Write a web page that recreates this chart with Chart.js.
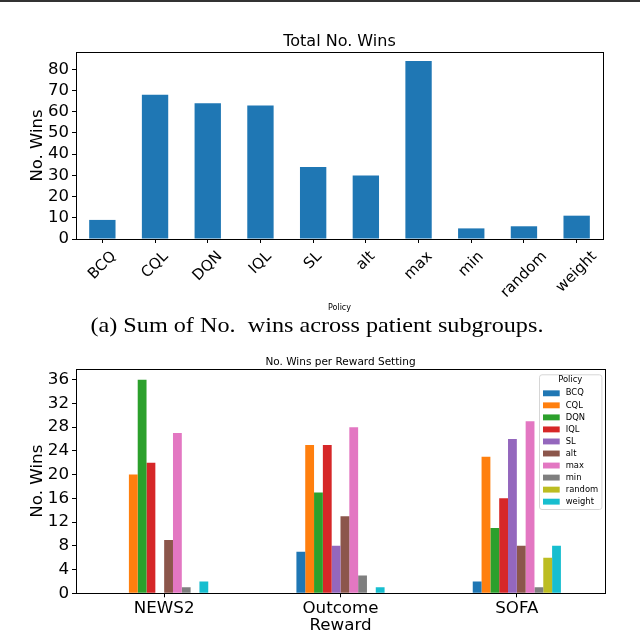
<!DOCTYPE html>
<html>
<head>
<meta charset="utf-8">
<script src="https://cdn.jsdelivr.net/npm/chart.js@4.4.0/dist/chart.umd.min.js"></script>
<style>
  html, body { margin: 0; padding: 0; background: #fff; }
  body { width: 640px; height: 632px; overflow: hidden; position: relative; }
  #rule { position: absolute; left: 0; top: 0; width: 640px; height: 1.5px; background: #333; }
  #totalChart { position: absolute; left: 0; top: 0; }
  #rewardChart { position: absolute; left: 0; top: 340px; }
  #caption {
    position: absolute; left: -3.5px; width: 640px; top: 312px;
    text-align: center; font-family: "Liberation Serif", "Times New Roman", serif;
    font-size: 22px; line-height: 25px; white-space: pre; color: #000;
  }
  #caption span { display: inline-block; transform: scaleX(1.1); }
</style>
</head>
<body>
<div id="rule"></div>
<canvas id="totalChart" width="640" height="320"></canvas>
<div id="caption"><span>(a) Sum of No.  wins across patient subgroups.</span></div>
<canvas id="rewardChart" width="640" height="300"></canvas>

<script>
const policies = ['BCQ', 'CQL', 'DQN', 'IQL', 'SL', 'alt', 'max', 'min', 'random', 'weight'];
const totalWins = [9, 68, 64, 63, 34, 30, 84, 5, 6, 11];
const totalTicks = [0, 10, 20, 30, 40, 50, 60, 70, 80];

const rewardSettings = ['NEWS2', 'Outcome', 'SOFA'];
const news2Wins = [0, 20, 36, 22, 0, 9, 27, 1, 0, 2];
const outcomeWins = [7, 25, 17, 25, 8, 13, 28, 3, 0, 1];
const sofaWins = [2, 23, 11, 16, 26, 8, 29, 1, 6, 8];
const rewardTicks = [0, 4, 8, 12, 16, 20, 24, 28, 32, 36];

const policyColors = ['#1f77b4', '#ff7f0e', '#2ca02c', '#d62728', '#9467bd',
                      '#8c564b', '#e377c2', '#7f7f7f', '#bcbd22', '#17becf'];

const FONT = 'DejaVu Sans';

// matplotlib style box round the plot
const spines = {
  id: 'spines',
  afterDraw(chart) {
    const a = chart.chartArea, ctx = chart.ctx;
    ctx.save();
    ctx.strokeStyle = '#000';
    ctx.lineWidth = 1;
    ctx.strokeRect(Math.round(a.left) + 0.5, Math.round(a.top) + 0.5,
                   Math.round(a.right - a.left), Math.round(a.bottom - a.top));
    ctx.restore();
  }
};

// x labels turned 45 deg, centred on the tick like matplotlib
const rotatedTicks = {
  id: 'rotatedTicks',
  afterDraw(chart) {
    const sc = chart.scales.x, ctx = chart.ctx;
    const fs = 15;
    ctx.save();
    ctx.font = fs + 'px "' + FONT + '"';
    ctx.fillStyle = '#000';
    ctx.textAlign = 'center';
    ctx.textBaseline = 'middle';
    const y0 = chart.chartArea.bottom + 4 + 5;
    chart.data.labels.forEach((lab, i) => {
      const w = ctx.measureText(lab).width;
      const half = (w + fs * 1.164) * Math.SQRT1_2 / 2;
      ctx.save();
      ctx.translate(sc.getPixelForTick(i), y0 + half);
      ctx.rotate(-Math.PI / 4);
      ctx.fillText(lab, 0, 0);
      ctx.restore();
    });
    ctx.restore();
  }
};

// framed legend in the upper right corner
const boxedLegend = {
  id: 'boxedLegend',
  afterDraw(chart) {
    const ctx = chart.ctx, a = chart.chartArea;
    const fs = 8.4, row = 12.04;
    const right = a.right - 3.6, left = right - 62.4;
    const top = a.top + 5.3, h = 134.7;
    ctx.save();
    ctx.beginPath();
    ctx.roundRect(left + 0.5, top + 0.5, right - left, h, 2.5);
    ctx.fillStyle = 'rgba(255,255,255,0.8)';
    ctx.fill();
    ctx.strokeStyle = '#d6d6d6';
    ctx.lineWidth = 1;
    ctx.stroke();
    ctx.font = fs + 'px "' + FONT + '"';
    ctx.fillStyle = '#000';
    ctx.textBaseline = 'middle';
    ctx.textAlign = 'center';
    ctx.fillText('Policy', (left + right) / 2, top + 5.7);
    ctx.textAlign = 'left';
    chart.data.datasets.forEach((ds, i) => {
      const cy = top + 19 + i * row;
      ctx.fillStyle = ds.backgroundColor;
      ctx.fillRect(left + 4, cy - 2.95, 16.7, 5.9);
      ctx.fillStyle = '#000';
      ctx.fillText(ds.label, left + 26.7, cy);
    });
    ctx.restore();
  }
};

new Chart(document.getElementById('totalChart'), {
  type: 'bar',
  data: {
    labels: policies,
    datasets: [{
      data: totalWins,
      backgroundColor: '#1f77b4',
      barPercentage: 0.5,
      categoryPercentage: 1
    }]
  },
  options: {
    responsive: false,
    animation: false,
    layout: { padding: { left: 0, right: 37, top: 0, bottom: 0 } },
    plugins: {
      legend: { display: false },
      tooltip: { enabled: false },
      title: {
        display: true, fullSize: false, text: 'Total No. Wins', color: '#000',
        font: { family: FONT, size: 16, weight: 'normal', lineHeight: 1.2 },
        padding: { top: 32.4, bottom: 0.4 }
      }
    },
    scales: {
      x: {
        offset: true,
        afterFit(s) { s.height = 81; },
        ticks: { display: false },
        grid: { drawOnChartArea: false, offset: false, tickLength: 4, tickColor: '#000' },
        border: { display: false },
        title: {
          display: true, text: 'Policy', color: '#000',
          font: { family: FONT, size: 8, lineHeight: 1.2 },
          padding: { top: 0, bottom: 7.2 }
        }
      },
      y: {
        min: 0, max: 88.2,
        afterFit(s) { s.width = 76; },
        afterBuildTicks(s) { s.ticks = totalTicks.map(v => ({ value: v })); },
        ticks: { color: '#000', padding: 3, font: { family: FONT, size: 16.5 } },
        grid: { drawOnChartArea: false, tickLength: 4, tickColor: '#000' },
        border: { display: false },
        title: {
          display: true, text: 'No. Wins', color: '#000',
          font: { family: FONT, size: 16.5, lineHeight: 1.2 },
          padding: { top: 27.6, bottom: 0 }
        }
      }
    }
  },
  plugins: [spines, rotatedTicks]
});

const perSetting = [news2Wins, outcomeWins, sofaWins];

new Chart(document.getElementById('rewardChart'), {
  type: 'bar',
  data: {
    labels: rewardSettings,
    datasets: policies.map((p, i) => ({
      label: p,
      data: perSetting.map(arr => arr[i]),
      backgroundColor: policyColors[i],
      barPercentage: 1,
      categoryPercentage: 0.5
    }))
  },
  options: {
    responsive: false,
    animation: false,
    layout: { padding: { left: 0, right: 35, top: 0, bottom: 0 } },
    plugins: {
      legend: { display: false },
      tooltip: { enabled: false },
      title: {
        display: true, fullSize: false, text: 'No. Wins per Reward Setting', color: '#000',
        font: { family: FONT, size: 10.5, weight: 'normal', lineHeight: 1.2 },
        padding: { top: 15.7, bottom: 0.7 }
      }
    },
    scales: {
      x: {
        offset: true,
        afterFit(s) { s.height = 46.7; },
        ticks: { color: '#000', padding: 1, maxRotation: 0, font: { family: FONT, size: 16.7 } },
        grid: { drawOnChartArea: false, offset: false, tickLength: 4, tickColor: '#000' },
        border: { display: false },
        title: {
          display: true, text: 'Reward', color: '#000',
          font: { family: FONT, size: 16.7, lineHeight: 1.2 },
          padding: { top: 0, bottom: 4.7 }
        }
      },
      y: {
        min: 0, max: 37.8,
        afterFit(s) { s.width = 76; },
        afterBuildTicks(s) { s.ticks = rewardTicks.map(v => ({ value: v })); },
        ticks: { color: '#000', padding: 3, font: { family: FONT, size: 16.7 } },
        grid: { drawOnChartArea: false, tickLength: 4, tickColor: '#000' },
        border: { display: false },
        title: {
          display: true, text: 'No. Wins', color: '#000',
          font: { family: FONT, size: 16.7, lineHeight: 1.2 },
          padding: { top: 27.5, bottom: 0 }
        }
      }
    }
  },
  plugins: [spines, boxedLegend]
});
</script>
</body>
</html>
